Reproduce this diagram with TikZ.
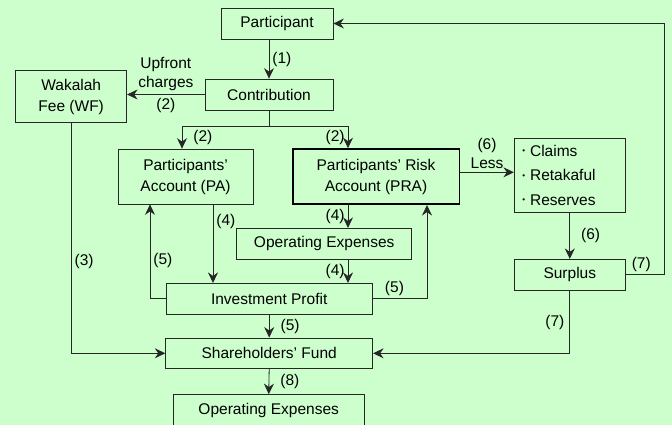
\documentclass[tikz,border=0pt]{standalone}
\usepackage{fontspec}
\setmainfont{Liberation Sans}
\usetikzlibrary{positioning,arrows.meta}
\definecolor{bggreen}{RGB}{204,255,204}

\begin{document}
\begin{tikzpicture}[
  x=1pt,y=-1pt,
  font=\fontsize{15.5}{21}\selectfont,
  flowbox/.style 2 args={draw=black!85,line width=0.8pt,align=center,inner sep=0pt,
    minimum width=#1pt,minimum height=#2pt},
  arr/.style={draw=black!85,line width=0.8pt,-{Stealth[length=10.5pt,width=10pt,inset=3.5pt]}},
  lbl/.style={inner sep=3pt,font=\fontsize{15.5}{19}\selectfont}
]
\useasboundingbox (0,0) rectangle (672,425);
\fill[bggreen] (0,0) rectangle (672,425);

% boxes
\node[flowbox={112}{31}] (PT) at (277,23.5) {Participant};
\node[flowbox={128}{31}] (CO) at (269,94.5) {Contribution};
\node[flowbox={111}{52}] (WF) at (71.2,96.7) {Wakalah\\Fee (WF)};
\node[flowbox={135}{55}] (PA) at (185.5,176.5) {Participants’\\Account (PA)};
\node[flowbox={166.6}{55.3},draw=black,line width=1.6pt] (PRA) at (376,176.6) {Participants’ Risk\\Account (PRA)};
\node[flowbox={111}{74},text width=95pt,align=left,font=\fontsize{15.5}{24.5}\selectfont] (CL) at (569.8,175)
  {\raisebox{2.5pt}{\footnotesize\textbullet}\hspace{5pt}Claims\\
   \raisebox{2.5pt}{\footnotesize\textbullet}\hspace{5pt}Retakaful\\
   \raisebox{2.5pt}{\footnotesize\textbullet}\hspace{5pt}Reserves};
\node[flowbox={175}{31}] (OE) at (324.2,243.8) {Operating Expenses};
\node[flowbox={206.3}{30.7}] (IP) at (269.2,298.7) {Investment Profit};
\node[flowbox={207}{30.7}] (SF) at (269.2,353.3) {Shareholders’ Fund};
\node[flowbox={190.6}{32}] (OE2) at (268.7,410.5) {Operating Expenses};
\node[flowbox={111}{31}] (SU) at (569.8,274.8) {Surplus};

% connectors
\draw[arr] (PT.south -| CO.north) -- (CO.north) node[lbl,midway,right] {(1)};
\draw[arr] (CO.west) -- (CO.west -| WF.east)
  node[lbl,midway,above,align=center] {Upfront\\charges}
  node[lbl,midway,below] {(2)};
\draw[draw=black!85,line width=0.8pt] (CO.south) -- ++(0,15.7) coordinate (split);
\draw[arr] (split) -| ([xshift=-3.5pt]PA.north) node[lbl,pos=0.75,right,xshift=8pt] {(2)};
\draw[arr] (split) -| ([xshift=-28pt]PRA.north) node[lbl,pos=0.75,left] {(2)};
\draw[arr] ([yshift=4.3pt]PRA.east) -- ([yshift=4.3pt]PRA.east -| CL.west)
  node[lbl,midway,above,align=center] {(6)\\Less};
\draw[arr] (CL.south) -- (SU.north) node[lbl,midway,right,xshift=8pt] {(6)};
\draw[arr] (SU.east) -- ([xshift=39pt]SU.east) node[lbl,pos=0.4,above] {(7)} |- (PT.east);
\draw[arr] (SU.south) |- (SF.east) node[lbl,pos=0.25,left,xshift=-2pt] {(7)};
\draw[arr] (WF.south) |- (SF.west) node[lbl,pos=0.3,right] {(3)};
\draw[arr] ([xshift=27.5pt]PA.south) -- ([xshift=27.5pt]PA.south |- IP.north) node[lbl,pos=0.22,right] {(4)};
\draw[arr] (IP.west) -| ([xshift=-35.5pt]PA.south) node[lbl,pos=0.7,right] {(5)};
\draw[arr] ([xshift=-28pt]PRA.south) -- ([xshift=-28pt]PRA.south |- OE.north) node[lbl,midway,left] {(4)};
\draw[arr] ([xshift=-28pt]PRA.south |- OE.south) -- ([xshift=-28pt]PRA.south |- IP.north) node[lbl,midway,left] {(4)};
\draw[arr] (IP.east) -| ([xshift=51pt]PRA.south) node[lbl,pos=0.2,above] {(5)};
\draw[arr] (IP.south) -- (SF.north) node[lbl,midway,right,xshift=8pt] {(5)};
\draw[arr] (SF.south) -- (OE2.north) node[lbl,midway,right,xshift=8pt] {(8)};
\end{tikzpicture}
\end{document}
